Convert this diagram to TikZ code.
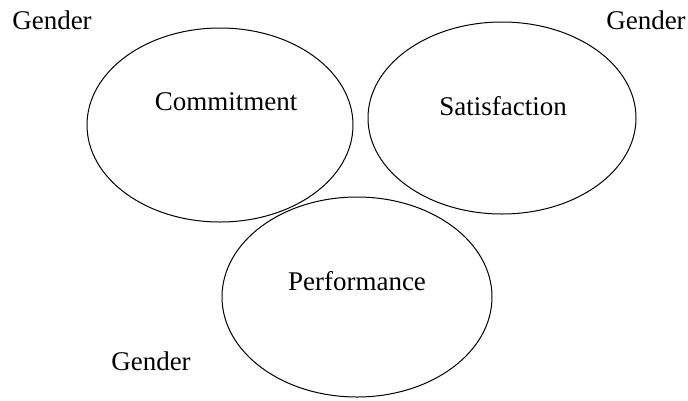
\documentclass[tikz,border=0pt]{standalone}
\usepackage{fontspec}
\setmainfont{Liberation Serif}
\begin{document}
\begin{tikzpicture}[x=1pt,y=-1pt,
  ell/.style={draw=black,line width=1pt},
  lbl/.style={font=\fontsize{27}{32}\selectfont,inner sep=0pt,anchor=base}]
\useasboundingbox (0,0) rectangle (688,400);
\draw[ell] (220,125) ellipse [x radius=133,y radius=97];
\draw[ell] (502,118) ellipse [x radius=134,y radius=96];
\draw[ell] (357,297) ellipse [x radius=135,y radius=100];
\node[lbl] (com) at (226,110) {Commitment};
\node[lbl] (sat) at (503,115) {Satisfaction};
\node[lbl] (perf) at (357,290) {Performance};
\node[lbl] (g1) at (52,29) {Gender};
\node[lbl] (g2) at (646,29) {Gender};
\node[lbl] (g3) at (151,370) {Gender};
\end{tikzpicture}
\end{document}
